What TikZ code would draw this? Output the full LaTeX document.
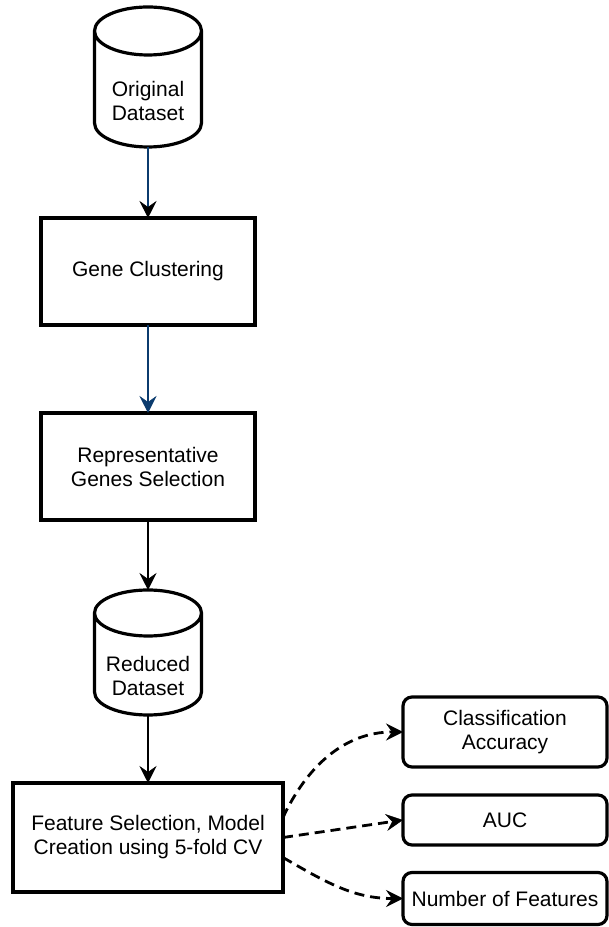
\documentclass[tikz,border=0pt]{standalone}
\usepackage{fontspec}
\setmainfont{Liberation Sans}
\usetikzlibrary{arrows.meta}

\definecolor{linkblue}{HTML}{0B3B6E}

% outline of a data store round its body node (#1), cap radius #2
\newcommand{\dbdraw}[2]{%
  \draw[line width=3.2pt, line join=round]
    ([yshift=#2]#1.north west) -- ([yshift=#2]#1.south west)
    arc[start angle=180, end angle=360, x radius=53.5pt, y radius=#2]
    -- ([yshift=#2]#1.north east)
    arc[start angle=0, end angle=360, x radius=53.5pt, y radius=#2];
}

\tikzset{
  every node/.style={font=\fontsize{21}{24}\selectfont, align=center, inner sep=0pt, outer sep=0pt},
  procbox/.style={draw, line width=3.2pt, minimum width=214pt, minimum height=107pt},
  resbox/.style={draw, line width=3.2pt, rounded corners=9pt, minimum width=204pt},
  dbbody/.style={minimum width=107pt},
  flow/.style={line width=2.8pt, -{Stealth[length=17pt, width=17pt, inset=6pt, line width=0.5pt]}},
  blueflow/.style={flow, draw=linkblue},
  dashflow/.style={flow, dash pattern=on 10pt off 6pt},
}

\begin{document}
\begin{tikzpicture}[x=1pt, y=1pt]
  \useasboundingbox (0,0) rectangle (609,927);

  % main column
  \node[dbbody, minimum height=92pt] (orig) at (148,826) {Original\\Dataset};
  \dbdraw{orig}{24pt}
  \node[procbox] (gene) at (148,655.5) {Gene Clustering};
  \node[procbox] (rep) at (148,460.5) {Representative\\Genes Selection};
  \node[dbbody, minimum height=79pt] (red) at (148,251.5) {Reduced\\Dataset};
  \dbdraw{red}{23pt}
  \coordinate (red-top) at ([yshift=46pt]red.north);
  \node[procbox, minimum width=270pt, minimum height=109pt] (fs) at (148,89.5)
    {Feature Selection, Model\\Creation using 5-fold CV};

  % results
  \node[resbox, minimum height=70pt] (acc) at (505,195) {Classification\\Accuracy};
  \node[resbox, minimum height=50pt] (auc) at (505,107) {AUC};
  \node[resbox, minimum height=52pt] (nof) at (505,28.5) {Number of Features};

  \draw[blueflow, -{Stealth[length=17pt, width=17pt, inset=6pt, line width=0.5pt, color=black]}]
    (orig.south) -- (gene.north);
  \draw[blueflow] (gene.south) -- (rep.north);
  \draw[flow] (rep.south) -- (red-top);
  \draw[flow] (red.south) -- (fs.north);

  \draw[dashflow] ([yshift=20pt]fs.east) to[out=65, in=180] (acc.west);
  \draw[dashflow] (fs.east) -- (auc.west);
  \draw[dashflow] ([yshift=-20pt]fs.east) to[out=-30, in=180] (nof.west);
\end{tikzpicture}
\end{document}
